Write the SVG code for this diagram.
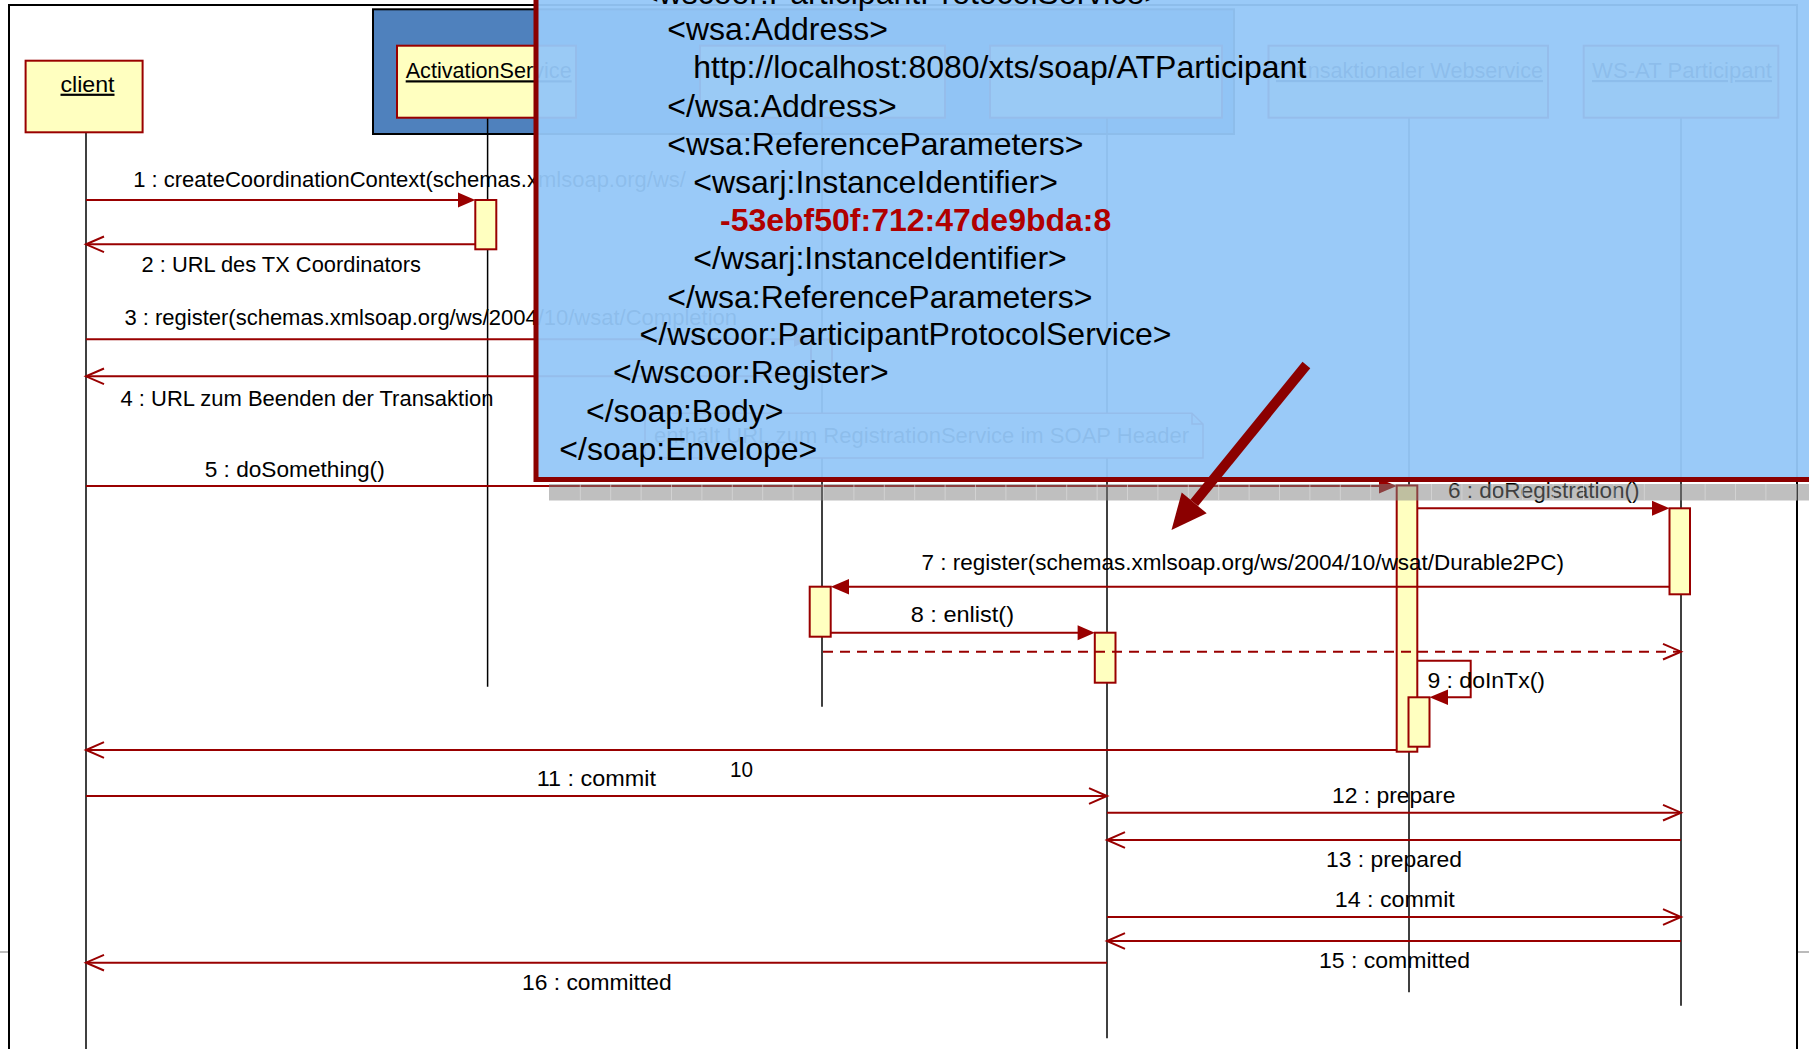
<svg xmlns="http://www.w3.org/2000/svg" width="1809" height="1049" viewBox="0 0 1809 1049">
<defs>
<style>
.lbl{font-family:"Liberation Sans",Arial,sans-serif;font-size:22px;fill:#000}
.hdr{font-family:"Liberation Sans",Arial,sans-serif;font-size:22px;fill:#000;text-decoration:underline}
.xml{font-family:"Liberation Sans",Arial,sans-serif;font-size:32px;fill:#000}
.box{fill:#ffffc0;stroke:#990000;stroke-width:2}
.life{stroke:#000;stroke-width:1.5}
.act{fill:#ffffc0;stroke:#990000;stroke-width:2}
.msg{stroke:#990000;stroke-width:2;fill:none}
.head{fill:#990000}
.open{fill:none;stroke:#990000;stroke-width:2}
</style>
</defs>
<rect width="1809" height="1049" fill="#fff"/>
<g id="frame">
<path d="M9,1049 V5 H1797 V1049" fill="none" stroke="#000" stroke-width="2"/>
<line x1="0" y1="952" x2="8" y2="952" stroke="#bbb" stroke-width="2"/>
<line x1="1798" y1="952" x2="1809" y2="952" stroke="#bbb" stroke-width="2"/>
</g>
<g id="container">
<rect x="373" y="9.3" width="861" height="124.7" fill="#4f81bd" stroke="#000" stroke-width="2"/>
</g>
<g id="client">
<line class="life" x1="86" y1="132" x2="86" y2="1049"/>
<rect class="box" x="25.6" y="60.7" width="117" height="71.6"/>
<text class="hdr" x="60.5" y="91.7" textLength="54" lengthAdjust="spacingAndGlyphs">client</text>
</g>
<g id="activationService">
<line class="life" x1="487.6" y1="118" x2="487.6" y2="686.7"/>
<rect class="box" x="397" y="45.7" width="179" height="72"/>
<text class="hdr" x="405.7" y="78.3" textLength="166" lengthAdjust="spacingAndGlyphs">ActivationService</text>
<rect class="act" x="475.3" y="200" width="21" height="49.3"/>
</g>
<g id="registrationService">
<line class="life" x1="822" y1="118" x2="822" y2="706.7"/>
<rect class="box" x="700" y="45.7" width="245" height="72"/>
<rect class="act" x="811" y="339.3" width="21" height="37"/>
<rect class="act" x="809.7" y="586.7" width="21" height="50"/>
</g>
<g id="coordinator">
<line class="life" x1="1107" y1="118" x2="1107" y2="1038.3"/>
<rect class="box" x="990" y="45.7" width="232" height="72"/>
<rect class="act" x="1094.8" y="632.7" width="20.7" height="50"/>
</g>
<g id="txWebservice">
<line class="life" x1="1409" y1="118" x2="1409" y2="992.3"/>
<rect class="box" x="1268.5" y="45.7" width="279.5" height="72"/>
<text class="hdr" x="1276" y="78" textLength="267" lengthAdjust="spacingAndGlyphs">Transaktionaler Webservice</text>
<rect class="act" x="1396.7" y="485.5" width="20.6" height="266.2"/>
<rect class="act" x="1408.5" y="697.3" width="21" height="49.4"/>
</g>
<g id="wsatParticipant">
<line class="life" x1="1681" y1="118" x2="1681" y2="1005.7"/>
<rect class="box" x="1583.7" y="45.7" width="194.6" height="72"/>
<text class="hdr" x="1592" y="78" textLength="180" lengthAdjust="spacingAndGlyphs">WS-AT Participant</text>
<rect class="act" x="1669.5" y="508.3" width="20.5" height="86"/>
</g>
<g id="note">
<path d="M645,413.3 H1192 L1203,424 V458 H645 Z M1192,413.3 V424 H1203" fill="#fff" stroke="#990000" stroke-width="1.5"/>
<text class="lbl" x="654" y="443" textLength="535" lengthAdjust="spacingAndGlyphs">enthält URL zum RegistrationService im SOAP Header</text>
</g>
<g id="connectors">
<line class="msg" x1="86" y1="200" x2="460" y2="200"/>
<polygon class="head" points="475.3,200 458,192.5 458,207.5"/>
<line class="msg" x1="475.3" y1="244.3" x2="86" y2="244.3"/>
<polyline class="open" points="104,236.5 86,244.3 104,252.1"/>
<line class="msg" x1="86" y1="339.3" x2="796" y2="339.3"/>
<polygon class="head" points="811,339.3 794,331.8 794,346.8"/>
<line class="msg" x1="811" y1="376.3" x2="86" y2="376.3"/>
<polyline class="open" points="104,368.5 86,376.3 104,384.1"/>
<line class="msg" x1="86" y1="486" x2="1382" y2="486"/>
<polygon class="head" points="1396.7,486 1379,478.5 1379,493.5"/>
<line class="msg" x1="1417.3" y1="508.3" x2="1655" y2="508.3"/>
<polygon class="head" points="1669.5,508.3 1652,500.8 1652,515.8"/>
<line class="msg" x1="1669.5" y1="586.7" x2="846" y2="586.7"/>
<polygon class="head" points="830.8,586.7 849,578.9 849,594.5"/>
<line class="msg" x1="830.8" y1="632.7" x2="1080" y2="632.7"/>
<polygon class="head" points="1094.8,632.7 1077.6,625.2 1077.6,640.2"/>
<line class="msg" x1="823" y1="651.7" x2="1680" y2="651.7" stroke-dasharray="10 7"/>
<polyline class="open" points="1663,643.9 1681,651.7 1663,659.5"/>
<path class="msg" d="M1417.3,660.7 H1470.7 V697.3 H1446" stroke-width="1.8"/>
<polygon class="head" points="1429.5,697.3 1448,689.5 1448,705.1"/>
<line class="msg" x1="1396.7" y1="750" x2="86" y2="750"/>
<polyline class="open" points="104,742.2 86,750 104,757.8"/>
<line class="msg" x1="86" y1="796" x2="1107" y2="796"/>
<polyline class="open" points="1089,788.2 1107,796 1089,803.8"/>
<line class="msg" x1="1107" y1="812.7" x2="1681" y2="812.7"/>
<polyline class="open" points="1663,804.9 1681,812.7 1663,820.5"/>
<line class="msg" x1="1681" y1="840" x2="1107" y2="840"/>
<polyline class="open" points="1125,832.2 1107,840 1125,847.8"/>
<line class="msg" x1="1107" y1="917" x2="1681" y2="917"/>
<polyline class="open" points="1663,909.2 1681,917 1663,924.8"/>
<line class="msg" x1="1681" y1="941" x2="1107" y2="941"/>
<polyline class="open" points="1125,933.2 1107,941 1125,948.8"/>
<line class="msg" x1="1107" y1="962.7" x2="86" y2="962.7"/>
<polyline class="open" points="104,954.9 86,962.7 104,970.5"/>
</g>
<g id="labels">
<text class="lbl" x="133.2" y="186.7">1 : createCoordinationContext(schemas.xmlsoap.org/ws/</text>
<text class="lbl" x="141.6" y="271.7" textLength="279.4" lengthAdjust="spacingAndGlyphs">2 : URL des TX Coordinators</text>
<text class="lbl" x="124.4" y="325">3 : register(schemas.xmlsoap.org/ws/2004/10/wsat/Completion</text>
<text class="lbl" x="120.5" y="406" textLength="373" lengthAdjust="spacingAndGlyphs">4 : URL zum Beenden der Transaktion</text>
<text class="lbl" x="204.7" y="476.7" textLength="180" lengthAdjust="spacingAndGlyphs">5 : doSomething()</text>
<text class="lbl" x="1448" y="498.3" textLength="191.6" lengthAdjust="spacingAndGlyphs">6 : doRegistration()</text>
<text class="lbl" x="921.5" y="570" textLength="642.5" lengthAdjust="spacingAndGlyphs">7 : register(schemas.xmlsoap.org/ws/2004/10/wsat/Durable2PC)</text>
<text class="lbl" x="910.7" y="621.7" textLength="103.3" lengthAdjust="spacingAndGlyphs">8 : enlist()</text>
<text class="lbl" x="1427.4" y="688.3" textLength="117.6" lengthAdjust="spacingAndGlyphs">9 : doInTx()</text>
<text class="lbl" x="730" y="777" textLength="23" lengthAdjust="spacingAndGlyphs">10</text>
<text class="lbl" x="536.7" y="786" textLength="119.3" lengthAdjust="spacingAndGlyphs">11 : commit</text>
<text class="lbl" x="1331.9" y="803.3" textLength="123.5" lengthAdjust="spacingAndGlyphs">12 : prepare</text>
<text class="lbl" x="1326" y="867.3" textLength="136" lengthAdjust="spacingAndGlyphs">13 : prepared</text>
<text class="lbl" x="1334.8" y="906.7" textLength="120" lengthAdjust="spacingAndGlyphs">14 : commit</text>
<text class="lbl" x="1319" y="968.3" textLength="151" lengthAdjust="spacingAndGlyphs">15 : committed</text>
<text class="lbl" x="522" y="990" textLength="149.6" lengthAdjust="spacingAndGlyphs">16 : committed</text>
</g>
<g id="shadow">
<rect x="549" y="484" width="1260" height="16.5" fill="#7f7f7f" fill-opacity="0.5"/>
<path d="M580.3,484 V500.5 M610.7,484 V500.5 M641.1,484 V500.5 M671.5,484 V500.5 M701.9,484 V500.5 M732.3,484 V500.5 M762.7,484 V500.5 M793.1,484 V500.5 M823.5,484 V500.5 M853.9,484 V500.5 M884.3,484 V500.5 M914.7,484 V500.5 M945.1,484 V500.5 M975.5,484 V500.5 M1005.9,484 V500.5 M1036.3,484 V500.5 M1066.7,484 V500.5 M1097.1,484 V500.5 M1127.5,484 V500.5 M1157.9,484 V500.5 M1188.3,484 V500.5 M1218.7,484 V500.5 M1249.1,484 V500.5 M1279.5,484 V500.5 M1309.9,484 V500.5 M1340.3,484 V500.5 M1370.7,484 V500.5 M1431.5,484 V500.5 M1461.9,484 V500.5 M1492.3,484 V500.5 M1522.7,484 V500.5 M1553.1,484 V500.5 M1583.5,484 V500.5 M1613.9,484 V500.5 M1644.3,484 V500.5 M1705.1,484 V500.5 M1735.5,484 V500.5 M1765.9,484 V500.5 M1796.3,484 V500.5" stroke="#e0e0e0" stroke-width="1" stroke-opacity="0.6"/>
</g>
<g id="overlay">
<rect x="536" y="-50" width="1400" height="529.5" fill="#95c7f8" fill-opacity="0.95" stroke="#8b0000" stroke-width="5"/>
<text class="xml" x="640" y="4">&lt;wscoor:ParticipantProtocolService&gt;</text>
<text class="xml" x="667.3" y="40">&lt;wsa:Address&gt;</text>
<text class="xml" x="693.2" y="78.3">http://localhost:8080/xts/soap/ATParticipant</text>
<text class="xml" x="667.3" y="117.3">&lt;/wsa:Address&gt;</text>
<text class="xml" x="667.3" y="155">&lt;wsa:ReferenceParameters&gt;</text>
<text class="xml" x="693.2" y="193.3">&lt;wsarj:InstanceIdentifier&gt;</text>
<text class="xml" x="720" y="231" font-weight="bold" style="fill:#b00000">-53ebf50f:712:47de9bda:8</text>
<text class="xml" x="693.2" y="269.3">&lt;/wsarj:InstanceIdentifier&gt;</text>
<text class="xml" x="667.3" y="307.7">&lt;/wsa:ReferenceParameters&gt;</text>
<text class="xml" x="639.6" y="345">&lt;/wscoor:ParticipantProtocolService&gt;</text>
<text class="xml" x="612.9" y="383.3">&lt;/wscoor:Register&gt;</text>
<text class="xml" x="586" y="421.7">&lt;/soap:Body&gt;</text>
<text class="xml" x="559.3" y="460">&lt;/soap:Envelope&gt;</text>
</g>
<g id="pointer">
<line x1="1306.4" y1="365" x2="1194.2" y2="502.8" stroke="#8b0000" stroke-width="10"/>
<polygon points="1171.5,530 1206.7,513.3 1181.7,492.4" fill="#8b0000"/>
</g>
</svg>
